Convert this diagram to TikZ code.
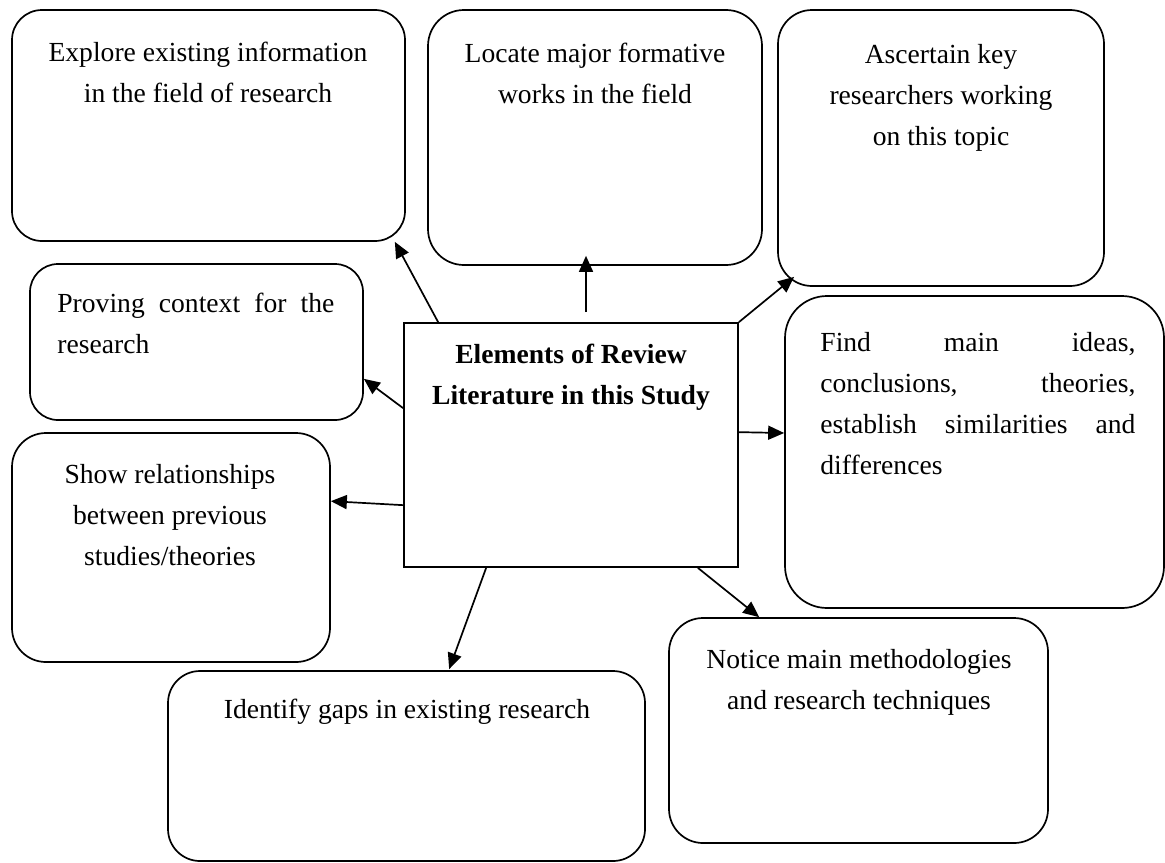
\documentclass[tikz,border=0pt]{standalone}
\usepackage{fontspec}
\setmainfont{Liberation Serif}
\usetikzlibrary{arrows.meta,fit,calc}
\newcommand{\mystrut}{\rule{0pt}{10pt}}
\begin{document}
\begin{tikzpicture}[x=0.5pt,y=-0.5pt,
  box/.style={draw,line width=0.85pt,inner sep=0pt,rounded corners=#1},
  box/.default=17pt,
  centerbox/.style={draw,line width=0.85pt,inner sep=0pt},
  txt/.style={inner sep=0pt,anchor=north,align=center,font=\fontsize{13.8pt}{20.5pt}\selectfont},
  jtxt/.style={inner sep=0pt,anchor=north west,align=justify,text width=#1,
    font=\fontsize{13.8pt}{20.5pt}\selectfont},
  arr/.style={line width=0.85pt,-{Triangle[length=8pt,width=7pt]}}]
\fill[white] (0,0) rectangle (1165,862);
\useasboundingbox (0,0) rectangle (1165,862);

% boxes
\node[box=15pt, fit={(12,10) (405,241)}] (b1) {};
\node[box=18pt, fit={(428,10) (762,265)}] (b2) {};
\node[box=17pt, fit={(778,10) (1104,286)}] (b3) {};
\node[box=14pt, fit={(30,264) (363,420)}] (b4) {};
\node[centerbox, fit={(404,323) (738,567)}] (c) {};
\node[box=21pt, fit={(785,296) (1164,608)}] (b6) {};
\node[box=17pt, fit={(12,433) (330,662)}] (b7) {};
\node[box=16pt, fit={(168,671) (645,861)}] (b8) {};
\node[box=17pt, fit={(669,618) (1048,843)}] (b9) {};

% texts
\node[txt] (t1) at (208,41) {\mystrut Explore existing information\\in the field of research};
\node[txt] (t2) at (595,42) {\mystrut Locate major formative\\works in the field};
\node[txt] (t3) at (941,43) {\mystrut Ascertain key\\researchers working\\on this topic};
\node[jtxt=138.5pt] (t4) at (57,292) {\hyphenpenalty=10000\relax\mystrut Proving context for the\linebreak research};
\node[txt,font=\fontsize{13.8pt}{20.5pt}\selectfont\bfseries] (tc) at (571,343) {\mystrut Elements of Review\\Literature in this Study};
\node[jtxt=157.5pt] (t6) at (820,331) {\hyphenpenalty=10000\relax\mystrut Find main ideas,\linebreak conclusions, theories,\linebreak establish similarities and\linebreak differences};
\node[txt] (t7) at (170,463) {\mystrut Show relationships\\between previous\\studies/theories};
\node[txt] (t8) at (407,698) {\mystrut Identify gaps in existing research};
\node[txt] (t9) at (859,648) {\mystrut Notice main methodologies\\and research techniques};

% arrow end points
\coordinate (e1) at ($(b1.south east)+(-11,0)$);
\coordinate (e2) at ($(b2.south)+(-9,-10)$);
\coordinate (e3) at ($(b3.south west)+(17,-10)$);
\coordinate (e4) at ($(b4.south east)+(0,-42)$);
\coordinate (e6) at ($(b6.west)+(0,-19)$);
\coordinate (e7) at ($(b7.north east)+(0,69)$);
\coordinate (e8) at ($(b8.north west)+(282,-1)$);
\coordinate (e9) at ($(b9.north west)+(91,0)$);

% connectors
\draw[arr] ($(c.north west)+(35,0)$) -- (e1);
\draw[arr] ($(c.north)+(15,-10)$) -- (e2);
\draw[arr] (c.north east) -- (e3);
\draw[arr] ($(c.north west)+(0,86)$) -- (e4);
\draw[arr] ($(c.north east)+(0,110)$) -- (e6);
\draw[arr] ($(c.north west)+(0,183)$) -- (e7);
\draw[arr] ($(c.south west)+(83,0)$) -- (e8);
\draw[arr] ($(c.south east)+(-41,0)$) -- (e9);
\end{tikzpicture}
\end{document}
